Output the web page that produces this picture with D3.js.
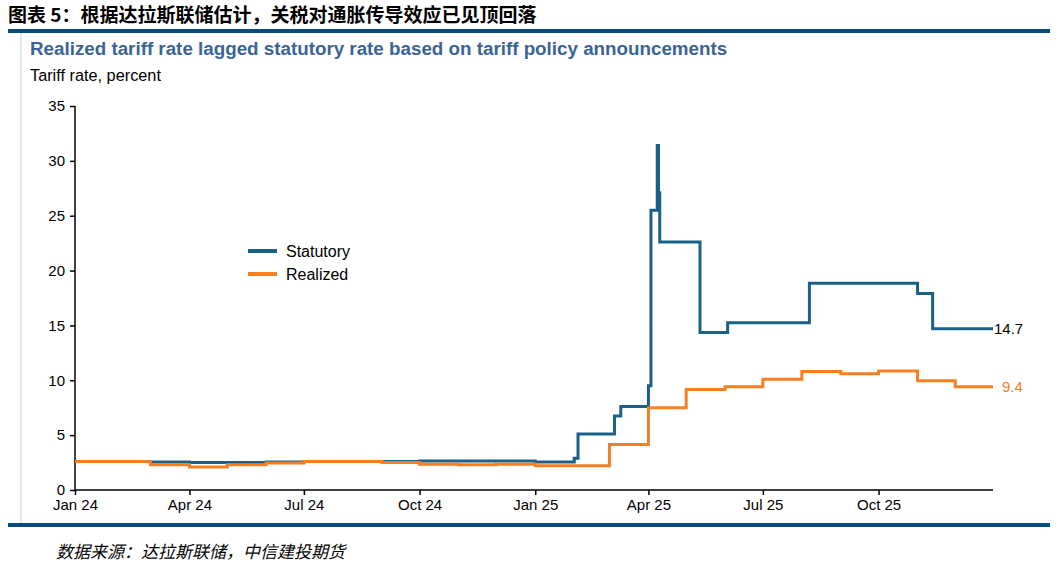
<!DOCTYPE html>
<html>
<head>
<meta charset="utf-8">
<script src="https://cdn.jsdelivr.net/npm/d3@7"></script>
<style>
  body { margin: 0; background: #fff; }
  svg { display: block; font-family: "Liberation Sans", Arial, sans-serif; }
  .axis text { font-size: 15px; fill: #000; font-family: "Liberation Sans", Arial, sans-serif; }
  .axis path, .axis line { stroke: #000; stroke-width: 1.5px; }
</style>
</head>
<body>
<svg width="1059" height="567"></svg>
<script>
(function (d3) {
  'use strict';

  // statutory tariff rate, step changes (date, percent)
  const statutoryDates = [
    '2024-01-01', '2024-03-01', '2024-04-01', '2024-06-01', '2024-07-01', '2024-10-01',
    '2025-01-01', '2025-02-01', '2025-02-04', '2025-03-05', '2025-03-10', '2025-04-01',
    '2025-04-03', '2025-04-08', '2025-04-09', '2025-04-10', '2025-05-12', '2025-06-03',
    '2025-08-07', '2025-11-01', '2025-11-13', '2025-12-31'
  ];
  const statutoryValues = [
    2.6, 2.55, 2.5, 2.55, 2.6, 2.65,
    2.55, 2.9, 5.1, 6.75, 7.6, 9.5,
    25.5, 31.4, 27.1, 22.6, 14.35, 15.25,
    18.85, 17.9, 14.7, 14.7
  ];

  // realized tariff rate, monthly
  const realizedDates = [
    '2024-01-01', '2024-02-01', '2024-03-01', '2024-04-01', '2024-05-01', '2024-06-01',
    '2024-07-01', '2024-08-01', '2024-09-01', '2024-10-01', '2024-11-01', '2024-12-01',
    '2025-01-01', '2025-02-01', '2025-03-01', '2025-04-01', '2025-05-01', '2025-06-01',
    '2025-07-01', '2025-08-01', '2025-09-01', '2025-10-01', '2025-11-01', '2025-12-01',
    '2025-12-31'
  ];
  const realizedValues = [
    2.6, 2.6, 2.3, 2.1, 2.3, 2.45,
    2.6, 2.6, 2.5, 2.35, 2.3, 2.35,
    2.2, 2.2, 4.15, 7.5, 9.15, 9.4,
    10.1, 10.8, 10.6, 10.85, 9.95, 9.4,
    9.4
  ];

  const yTicks = [0, 5, 10, 15, 20, 25, 30, 35];
  const xTickDates = ['2024-01-01', '2024-04-01', '2024-07-01', '2024-10-01',
                      '2025-01-01', '2025-04-01', '2025-07-01', '2025-10-01'];
  const xTickLabels = ['Jan 24', 'Apr 24', 'Jul 24', 'Oct 24', 'Jan 25', 'Apr 25', 'Jul 25', 'Oct 25'];

  const seriesNames = ['Statutory', 'Realized'];
  const colors = ['#1a6187', '#f58024'];

  const parse = d3.utcParse('%Y-%m-%d');
  const statutory = statutoryDates.map((d, i) => ({ date: parse(d), value: statutoryValues[i] }));
  const realized = realizedDates.map((d, i) => ({ date: parse(d), value: realizedValues[i] }));

  const svg = d3.select('svg');

  // header
  svg.append('text')
    .attr('x', 8).attr('y', 22)
    .attr('font-family', '"Noto Sans CJK SC", sans-serif')
    .attr('font-weight', 'bold')
    .attr('font-size', 19)
    .attr('fill', '#000')
    .text('图表 5：根据达拉斯联储估计，关税对通胀传导效应已见顶回落');

  svg.append('rect')
    .attr('x', 8).attr('y', 29).attr('width', 1042).attr('height', 4)
    .attr('fill', '#064c7e');

  svg.append('rect')
    .attr('x', 20).attr('y', 33).attr('width', 2).attr('height', 490)
    .attr('fill', '#e6e6e6');

  svg.append('text')
    .attr('x', 30).attr('y', 55)
    .attr('font-weight', 'bold')
    .attr('font-size', 18.8)
    .attr('fill', '#3a6496')
    .text('Realized tariff rate lagged statutory rate based on tariff policy announcements');

  svg.append('text')
    .attr('x', 30).attr('y', 81)
    .attr('font-size', 16.3)
    .attr('fill', '#000')
    .text('Tariff rate, percent');

  // scales
  const xScale = d3.scaleUtc()
    .domain([parse('2024-01-01'), parse('2025-12-31')])
    .range([75, 993]);

  const yScale = d3.scaleLinear()
    .domain([0, 35])
    .range([490, 106]);

  const yAxis = d3.axisLeft(yScale)
    .tickValues(yTicks)
    .tickSize(5)
    .tickPadding(5)
    .tickFormat(d3.format('d'));

  const xAxis = d3.axisBottom(xScale)
    .tickValues(xTickDates.map(parse))
    .tickSize(5)
    .tickPadding(4)
    .tickFormat((d, i) => xTickLabels[i]);

  svg.append('g')
    .attr('class', 'axis y-axis')
    .attr('transform', 'translate(75,0)')
    .call(yAxis)
    .call(g => g.select('.domain').attr('d', `M0,${yScale(35)}V${yScale(0)}`));

  svg.append('g')
    .attr('class', 'axis x-axis')
    .attr('transform', 'translate(0,490)')
    .call(xAxis)
    .call(g => g.select('.domain').attr('d', `M75,0H993`));

  // lines
  const line = d3.line()
    .x(d => xScale(d.date))
    .y(d => yScale(d.value))
    .curve(d3.curveStepAfter);

  svg.append('path')
    .datum(statutory)
    .attr('fill', 'none')
    .attr('stroke', colors[0])
    .attr('stroke-width', 3)
    .attr('d', line);

  svg.append('path')
    .datum(realized)
    .attr('fill', 'none')
    .attr('stroke', colors[1])
    .attr('stroke-width', 3)
    .attr('d', line);

  // end labels
  const lastS = statutory[statutory.length - 1];
  const lastR = realized[realized.length - 1];
  svg.append('text')
    .attr('x', xScale(lastS.date) + 1)
    .attr('y', yScale(lastS.value) + 5)
    .attr('font-size', 15)
    .attr('fill', '#000')
    .text(d3.format('.1f')(lastS.value));
  svg.append('text')
    .attr('x', xScale(lastR.date) + 9)
    .attr('y', yScale(lastR.value) + 5)
    .attr('font-size', 15)
    .attr('fill', colors[1])
    .text(d3.format('.1f')(lastR.value));

  // legend
  const legend = svg.append('g').attr('transform', 'translate(248,251)');
  seriesNames.forEach((name, i) => {
    const row = legend.append('g').attr('transform', `translate(0,${i * 23})`);
    row.append('line')
      .attr('x1', 0).attr('x2', 29)
      .attr('stroke', colors[i])
      .attr('stroke-width', 4);
    row.append('text')
      .attr('x', 38).attr('y', 5.5)
      .attr('font-size', 16)
      .attr('fill', '#000')
      .text(name);
  });

  // bottom rule and source
  svg.append('rect')
    .attr('x', 8).attr('y', 523).attr('width', 1042).attr('height', 4)
    .attr('fill', '#064c7e');

  svg.append('text')
    .attr('x', 56).attr('y', 558)
    .attr('font-family', '"Noto Sans CJK SC", sans-serif')
    .attr('font-style', 'italic')
    .attr('font-size', 17)
    .attr('fill', '#000')
    .text('数据来源：达拉斯联储，中信建投期货');

}(d3));
</script>
</body>
</html>
